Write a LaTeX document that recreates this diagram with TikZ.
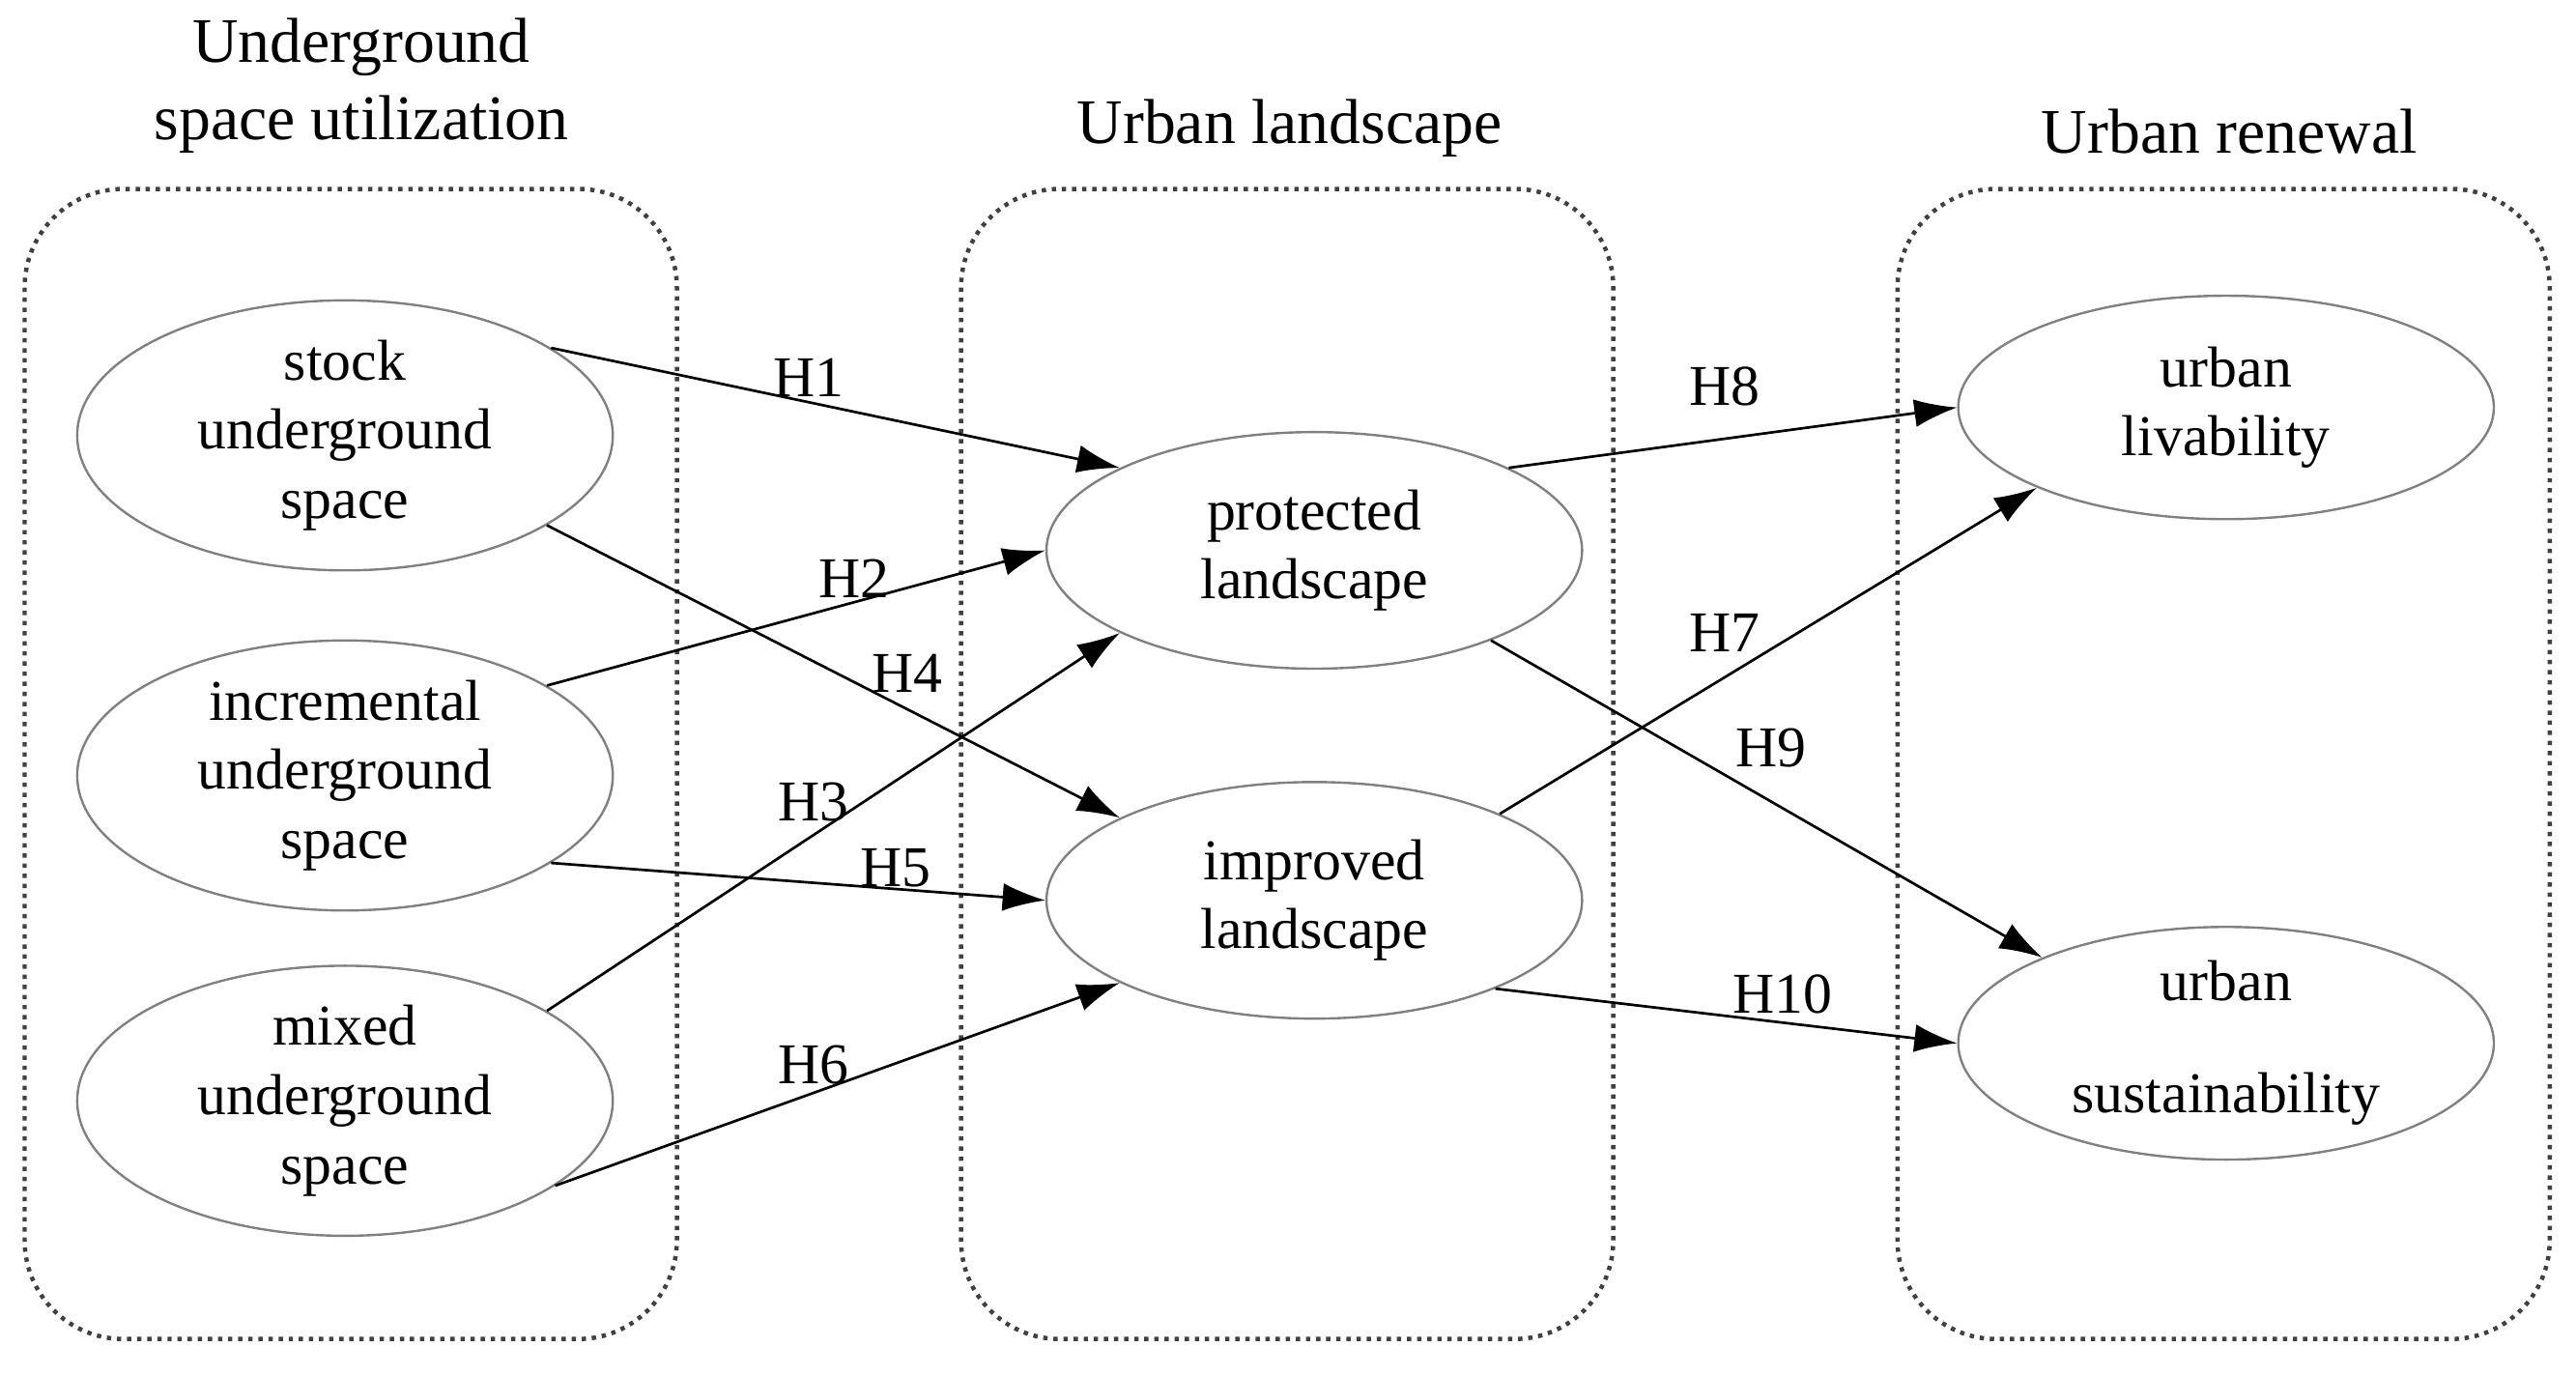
\documentclass[tikz,border=0pt]{standalone}
\usepackage{fontspec}
\setmainfont{Liberation Serif}
\usetikzlibrary{arrows.meta,shapes.geometric}
\begin{document}
\begin{tikzpicture}[x=0.1mm,y=-0.1mm,
  every node/.style={font=\fontsize{10}{12}\selectfont},
  grp/.style={draw=black!75,densely dotted,line width=0.75pt,rounded corners=6mm},
  ell/.style={ellipse,draw=black!50,line width=0.4pt,minimum width=32.6mm,minimum height=15.6mm,inner sep=0pt,align=center},
  arr/.style={-{Latex[length=2.6mm,width=1.7mm]},line width=0.45pt},
  lab/.style={inner sep=1pt}]
\useasboundingbox (0,0) rectangle (1568,837);
\draw[grp] (15,115) rectangle (412,815);
\draw[grp] (585,115) rectangle (982,815);
\draw[grp] (1155,115) rectangle (1552,815);
\node[align=center,font=\fontsize{11}{13.4}\selectfont] (t1) at (220,52) {Underground\\space utilization};
\node[font=\fontsize{11}{13}\selectfont] (t2) at (785,78) {Urban landscape};
\node[font=\fontsize{11}{13}\selectfont] (t3) at (1357,80) {Urban renewal};
\node[ell] (s) at (210,265) {stock\\underground\\space};
\node[ell] (i) at (210,472) {incremental\\underground\\space};
\node[ell] (m) at (210,670) {mixed\\underground\\space};
\node[ell,minimum height=14.4mm] (p) at (800,335) {protected\\landscape};
\node[ell,minimum height=14.4mm] (im) at (800,548) {improved\\landscape};
\node[ell,minimum height=13.6mm] (l) at (1355,248) {urban\\livability};
\node[ell,minimum height=14mm] (u) at (1355,635) {urban\\[2.6mm]sustainability};
\draw[arr] (s.23) -- (p.157);
\draw[arr] (i.24) -- (p.180);
\draw[arr] (s.-24) -- (im.157);
\draw[arr] (m.24) -- (p.203);
\draw[arr] (i.-23) -- (im.180);
\draw[arr] (m.-22) -- (im.203);
\draw[arr] (p.23) -- (l.180);
\draw[arr] (im.25) -- (l.203);
\draw[arr] (p.-27) -- (u.155);
\draw[arr] (im.-26) -- (u.180);
\node[lab] (h1) at (492,230) {H1};
\node[lab] (h2) at (520,352) {H2};
\node[lab] (h4) at (552,410) {H4};
\node[lab] (h3) at (495,488) {H3};
\node[lab] (h5) at (545,528) {H5};
\node[lab] (h6) at (495,648) {H6};
\node[lab] (h8) at (1050,235) {H8};
\node[lab] (h7) at (1050,385) {H7};
\node[lab] (h9) at (1078,455) {H9};
\node[lab] (h10) at (1085,605) {H10};
\end{tikzpicture}
\end{document}
